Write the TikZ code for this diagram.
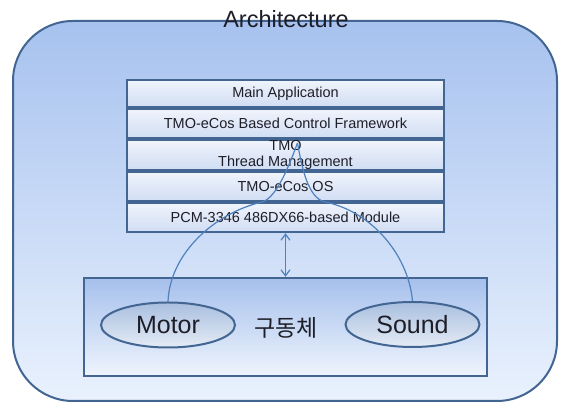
\documentclass[tikz,border=0pt]{standalone}
\usepackage{fontspec}
\setmainfont{Liberation Sans}
\newfontfamily\kofont{Noto Sans CJK KR}
\usetikzlibrary{arrows.meta,shapes.geometric}
\definecolor{bordc}{RGB}{66,101,146}
\definecolor{linec}{RGB}{79,129,189}
\definecolor{outtop}{RGB}{167,194,239}
\definecolor{outbot}{RGB}{233,241,253}
\definecolor{rowtop}{RGB}{240,244,252}
\definecolor{rowbot}{RGB}{208,221,243}
\definecolor{drvtop}{RGB}{166,192,236}
\definecolor{drvbot}{RGB}{238,244,253}
\definecolor{elltop}{RGB}{169,191,223}
\definecolor{ellbot}{RGB}{228,235,245}
\definecolor{txtc}{RGB}{30,30,40}
\tikzset{
  rowbox/.style={draw=bordc, line width=2.4pt, top color=rowtop, bottom color=rowbot,
    minimum width=317pt, inner sep=0pt, align=center, text=txtc,
    font=\fontsize{14.5}{15.5}\selectfont},
  drvbox/.style={draw=bordc, line width=2.4pt, top color=drvtop, bottom color=drvbot,
    minimum width=403pt, minimum height=98pt, inner sep=0pt},
  devell/.style={ellipse, draw=bordc, line width=2pt, top color=elltop, bottom color=ellbot,
    minimum width=134pt, minimum height=45pt, inner sep=0pt, text=txtc,
    font=\fontsize{25}{28}\selectfont},
  conn/.style={draw=linec, line width=1.2pt},
}
\begin{document}
\begin{tikzpicture}[x=1pt,y=1pt]
\useasboundingbox (0,0) rectangle (563,403);
% outer rounded container
\draw[draw=bordc, line width=2pt, top color=outtop, bottom color=outbot, rounded corners=60pt]
  (13,2) rectangle (557,382);
\node[text=txtc, font=\fontsize{23.5}{26}\selectfont] (title) at (286,384) {Architecture};
% stack
\node[rowbox, minimum height=27pt] (r1) at (285.5,309.5) {Main Application};
\node[rowbox, minimum height=29pt] (r2) at (285.5,279.5) {TMO-eCos Based Control Framework};
\node[rowbox, minimum height=30pt] (r3) at (285.5,248) {TMO\\Thread Management};
\node[rowbox, minimum height=29pt] (r4) at (285.5,216.5) {TMO-eCos OS};
\node[rowbox, minimum height=29pt] (r5) at (285.5,185.5) {PCM-3346 486DX66-based Module};
% driver box
\node[drvbox] (drv) at (285.5,76) {};
\node[devell] (motor) at (168,78) {Motor};
\node[devell] (sound) at (412.5,78.5) {Sound};
\node[text=txtc, font=\kofont\fontsize{23}{26}\selectfont] (kdrv) at (286,75) {구동체};
% connectors
\draw[conn, {Straight Barb[length=6pt,width=9pt]}-{Straight Barb[length=6pt,width=9pt]}]
  (r5.south) -- (drv.north);
\coordinate (apex) at (297.5,260);
\draw[conn] (motor.north) .. controls (170,150) and (215,190) .. (262,201)
  .. controls (277,205) and (290,240) .. (apex);
\draw[conn] (sound.north) .. controls (408,150) and (370,192) .. (325,201)
  .. controls (308,205) and (302,235) .. (apex);
\end{tikzpicture}
\end{document}
